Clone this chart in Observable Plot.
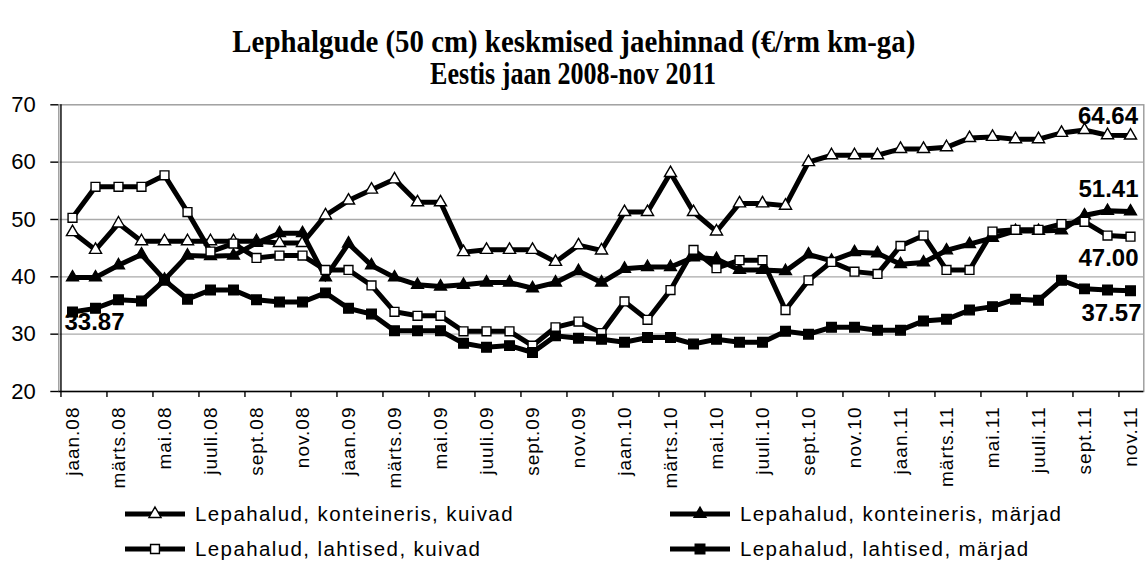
<!DOCTYPE html>
<html>
<head>
<meta charset="utf-8">
<script src="https://cdn.jsdelivr.net/npm/d3@7"></script>
<script src="https://cdn.jsdelivr.net/npm/@observablehq/plot@0.6"></script>
<style>
  html, body { margin: 0; padding: 0; background: #fff; }
  body { width: 1147px; height: 562px; position: relative; overflow: hidden;
         font-family: "Liberation Sans", Arial, sans-serif; color: #000; }
  .title { position: absolute; left: 0; width: 1147px; text-align: center;
           font-family: "Liberation Serif", "Times New Roman", serif; font-weight: bold;
           font-size: 31px; line-height: 34px; white-space: nowrap; }
  .title span { display: inline-block; transform-origin: 50% 50%; }
  #chart { position: absolute; left: 0; top: 90px; }
  #chart g[aria-label="x-axis tick label"] text { letter-spacing: 1px; }
  .leg { position: absolute; display: flex; align-items: center; height: 20px;
         font-size: 20.5px; letter-spacing: 1.4px; white-space: nowrap; }
  .leg svg { display: block; margin-right: 10px; }
</style>
</head>
<body>
<div class="title" style="top:25px"><span id="t1">Lephalgude (50 cm) keskmised jaehinnad (€/rm km-ga)</span></div>
<div class="title" style="top:57px"><span id="t2">Eestis jaan 2008-nov 2011</span></div>
<div id="chart"></div>
<div id="legend"></div>
<script>
// ---- data ----
const monthNames = ["jaan", "veebr", "märts", "apr", "mai", "juuni", "juuli", "aug", "sept", "okt", "nov", "dets"];
const years = ["08", "09", "10", "11"];
const seriesNames = [
  "Lepahalud, konteineris, kuivad",
  "Lepahalud, konteineris, märjad",
  "Lepahalud, lahtised, kuivad",
  "Lepahalud, lahtised, märjad"
];
const kontKuivad = [47.8, 44.7, 49.3, 46.2, 46.2, 46.2, 46.2, 46.2, 46.2, 45.9, 45.9, 50.7, 53.3, 55.2, 57.0, 53.0, 53.0, 44.3, 44.7, 44.7, 44.7, 42.6, 45.5, 44.6, 51.3, 51.3, 58.1, 51.3, 47.9, 52.8, 52.8, 52.4, 60.0, 61.2, 61.2, 61.2, 62.3, 62.3, 62.6, 64.2, 64.4, 64.0, 64.0, 65.1, 65.6, 64.7, 64.64];
const kontMarjad = [39.9, 39.9, 42.0, 43.9, 39.5, 43.7, 43.6, 43.7, 45.9, 47.6, 47.6, 39.9, 45.8, 42.0, 39.9, 38.6, 38.3, 38.6, 39.0, 39.0, 38.0, 39.0, 41.0, 39.0, 41.4, 41.7, 41.7, 43.4, 43.1, 41.2, 41.2, 41.0, 43.9, 42.8, 44.3, 44.1, 42.2, 42.5, 44.6, 45.7, 46.8, 48.0, 48.0, 48.1, 50.7, 51.5, 51.41];
const lahtKuivad = [50.3, 55.7, 55.7, 55.7, 57.7, 51.3, 44.4, 45.8, 43.3, 43.7, 43.7, 41.2, 41.2, 38.5, 33.9, 33.2, 33.2, 30.5, 30.5, 30.5, 28.0, 31.2, 32.2, 30.2, 35.7, 32.5, 37.7, 44.7, 41.5, 42.9, 42.9, 34.2, 39.4, 42.6, 40.9, 40.5, 45.4, 47.2, 41.2, 41.2, 47.9, 48.2, 48.2, 49.2, 49.6, 47.2, 47.00];
const lahtMarjad = [33.87, 34.5, 36.0, 35.8, 39.4, 36.1, 37.7, 37.7, 36.0, 35.6, 35.6, 37.2, 34.5, 33.5, 30.6, 30.6, 30.6, 28.4, 27.7, 28.0, 26.8, 29.7, 29.3, 29.1, 28.6, 29.4, 29.4, 28.3, 29.1, 28.6, 28.6, 30.5, 30.0, 31.2, 31.2, 30.7, 30.7, 32.3, 32.6, 34.2, 34.8, 36.1, 35.9, 39.4, 37.9, 37.7, 37.57];
const yTicks = [20, 30, 40, 50, 60, 70];

// ---- categories ----
const months = [];
for (const y of years) for (const m of monthNames) months.push(`${m}.${y}`);
months.length = kontKuivad.length; // jaan.08 ... nov.11
const tickMonths = months.filter((d, i) => i % 2 === 0);

// ---- layout ----
const W = 1147, H = 410;
const mL = 58.3, mR = 3.7, mT = 14.3, mB = 109;
const step = (W - mL - mR) / months.length;

const series = [
  {name: seriesNames[0], values: kontKuivad, symbol: "triangle", fill: "white", r: 4.5},
  {name: seriesNames[1], values: kontMarjad, symbol: "triangle", fill: "black", r: 4.4},
  {name: seriesNames[2], values: lahtKuivad, symbol: "square", fill: "white", r: 5.0},
  {name: seriesNames[3], values: lahtMarjad, symbol: "square", fill: "black", r: 5.4}
];
const rowsOf = s => s.values.map((v, i) => ({series: s.name, month: months[i], value: v}));

const seriesMarks = series.flatMap(s => {
  const rows = rowsOf(s);
  return [
    Plot.line(rows, {x: "month", y: "value", stroke: "black", strokeWidth: 5, strokeLinejoin: "miter", strokeMiterlimit: 3}),
    Plot.dot(rows, {x: "month", y: "value", symbol: () => s.symbol, r: s.r, fill: s.fill, stroke: "black", strokeWidth: 1.4})
  ];
});

const lastOf = s => [{month: months[s.values.length - 1], value: s.values[s.values.length - 1]}];
const firstOf = s => [{month: months[0], value: s.values[0]}];
const labelStyle = {x: "month", y: "value", text: d => d.value.toFixed(2), fontSize: 24, fontWeight: "bold", fill: "black"};
const labelMarks = [
  Plot.text(lastOf(series[0]), {...labelStyle, textAnchor: "end", dx: 7.5, dy: -19.5}),
  Plot.text(lastOf(series[1]), {...labelStyle, textAnchor: "end", dx: 8, dy: -22.5}),
  Plot.text(lastOf(series[2]), {...labelStyle, textAnchor: "end", dx: 8, dy: 22}),
  Plot.text(lastOf(series[3]), {...labelStyle, textAnchor: "end", dx: 11, dy: 22.5}),
  Plot.text(firstOf(series[3]), {...labelStyle, textAnchor: "start", dx: -8, dy: 10.5})
];

const chart = Plot.plot({
  width: W, height: H,
  marginLeft: mL, marginRight: mR, marginTop: mT, marginBottom: mB,
  style: {fontFamily: '"Liberation Sans", Arial, sans-serif', color: "black", background: "white", overflow: "visible"},
  x: {type: "point", domain: months, padding: 0.5},
  y: {domain: [20, 70]},
  marks: [
    Plot.frame({stroke: "#9a9a9a", strokeWidth: 1.4}),
    Plot.ruleY([30, 40, 50, 60], {stroke: "#aaaaaa", strokeWidth: 1.3}),
    Plot.ruleY([20], {stroke: "black", strokeWidth: 1.4}),
    Plot.ruleX([months[0]], {dx: -step / 2, stroke: "black", strokeWidth: 1.4}),
    Plot.ruleX(tickMonths, {x: d => d, y1: 20, y2: 20, dx: -step / 2, insetBottom: -6, stroke: "black", strokeWidth: 1.4}),
    Plot.axisY({ticks: yTicks, tickSize: 8, tickPadding: 15, fontSize: 22, label: null, strokeWidth: 1.4}),
    Plot.axisX({ticks: tickMonths, tickSize: 0, tickRotate: -90, tickPadding: 15, fontSize: 19, label: null}),
    ...seriesMarks,
    ...labelMarks
  ]
});
document.getElementById("chart").append(chart);

// ---- legend ----
const legendPos = [
  {left: 125, top: 504},
  {left: 670, top: 504},
  {left: 125, top: 539},
  {left: 670, top: 539}
];
const legend = document.getElementById("legend");
series.forEach((s, i) => {
  const div = document.createElement("div");
  div.className = "leg";
  div.style.left = legendPos[i].left + "px";
  div.style.top = legendPos[i].top + "px";
  const svg = d3.create("svg").attr("width", 60).attr("height", 20);
  svg.append("line").attr("x1", 0).attr("x2", 60).attr("y1", 10).attr("y2", 10)
     .attr("stroke", "black").attr("stroke-width", 5);
  const sym = s.symbol === "triangle" ? d3.symbolTriangle : d3.symbolSquare;
  svg.append("path").attr("transform", "translate(30,10)")
     .attr("d", d3.symbol(sym, Math.PI * s.r * s.r)())
     .attr("fill", s.fill).attr("stroke", "black").attr("stroke-width", 1.4);
  div.append(svg.node());
  const span = document.createElement("span");
  span.textContent = s.name;
  div.append(span);
  legend.append(div);
});

// ---- fit title widths to reference ----
[["t1", 683], ["t2", 286]].forEach(([id, target]) => {
  const el = document.getElementById(id);
  const w = el.getBoundingClientRect().width;
  if (w > 0) el.style.transform = `scaleX(${target / w})`;
});
</script>
</body>
</html>
